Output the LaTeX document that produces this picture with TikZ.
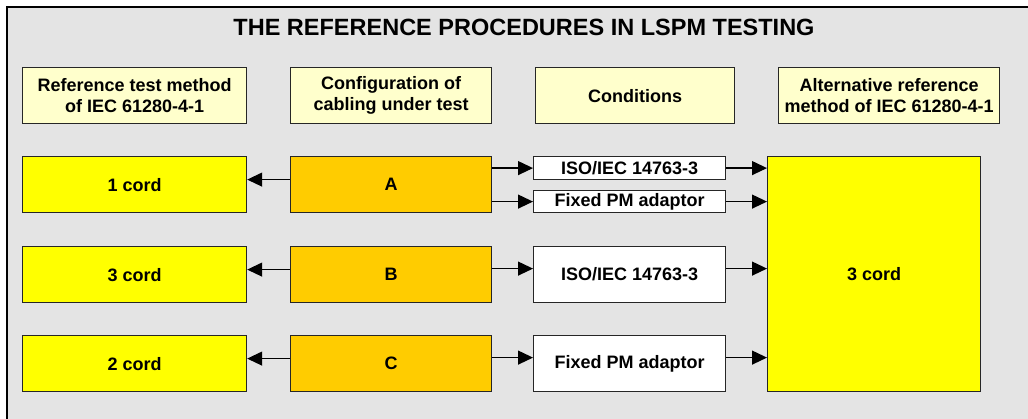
\documentclass[tikz,border=0pt]{standalone}
\usepackage{fontspec}
\setmainfont{Liberation Sans}
\usetikzlibrary{arrows.meta}
\usetikzlibrary{calc}

\definecolor{panelgray}{HTML}{E4E4E4}
\definecolor{headfill}{HTML}{FFFFCC}
\definecolor{cordfill}{HTML}{FFFF00}
\definecolor{cfgfill}{HTML}{FFCC00}

\tikzset{
  box/.style={draw=black!85, line width=1.2pt, anchor=north west, inner sep=0pt,
    align=center, font=\fontsize{18}{21.5}\selectfont\bfseries},
  headbox/.style={box, fill=headfill, minimum height=56pt},
  cordbox/.style={box, fill=cordfill, minimum height=56pt, minimum width=224pt},
  cfgbox/.style={box, fill=cfgfill, minimum height=56pt, minimum width=201pt},
  condbox/.style={box, fill=white, minimum width=192pt},
  arr/.style={line width=1.2pt, -{Triangle[length=15pt,width=14pt]}}
}

\begin{document}
\begin{tikzpicture}[x=1pt,y=-1pt]
  \useasboundingbox (0,0) rectangle (1028,419);
  % panel, cut off at the right and at the bottom
  \fill[panelgray] (7,7) rectangle (1028,419);
  \draw[line width=2.5pt] (7,419) -- (7,7) -- (1028,7);
  \node[font=\fontsize{23.5}{26}\selectfont\bfseries] (title) at (524,27) {THE REFERENCE PROCEDURES IN LSPM TESTING};

  % column headings
  \node[headbox, minimum width=224pt] (h1) at (22,67) {Reference test method\\of IEC 61280-4-1};
  \node[headbox, minimum width=201pt] (h2) at (290,67) {Configuration of\\cabling under test};
  \node[headbox, minimum width=199pt] (h3) at (535,67) {Conditions};
  \node[headbox, minimum width=221pt] (h4) at (778,67) {Alternative reference\\method of IEC 61280-4-1};

  % rows: reference method and configuration
  \foreach \cfg/\cord/\y in {A/1/156, B/3/246, C/2/335} {
    \node[cordbox] (ref\cfg) at (22,\y) {\cord{} cord};
    \node[cfgbox] (cfg\cfg) at (290,\y) {\cfg};
    \draw[arr] ([yshift=5pt]cfg\cfg.west) -- ([yshift=5pt]ref\cfg.east);
  }

  % conditions
  \node[condbox, minimum height=23pt] (isoA) at (533,156) {ISO/IEC 14763-3};
  \node[condbox, minimum height=22pt] (pmA) at (533,190) {Fixed PM adaptor};
  \node[condbox, minimum height=56pt] (isoB) at (533,246) {ISO/IEC 14763-3};
  \node[condbox, minimum height=56pt] (pmC) at (533,335) {Fixed PM adaptor};

  % alternative method
  \node[box, fill=cordfill, minimum width=213pt, minimum height=235pt] (alt) at (767,156) {3 cord};

  \draw[arr] (cfgA.east |- isoA.west) -- (isoA.west);
  \draw[arr] (cfgA.east |- pmA.west) -- (pmA.west);
  \draw[arr] ([yshift=6pt]cfgB.east) -- ([yshift=6pt]isoB.west);
  \draw[arr] ([yshift=6pt]cfgC.east) -- ([yshift=6pt]pmC.west);

  \draw[arr] (isoA.east) -- (isoA.east -| alt.west);
  \draw[arr] (pmA.east) -- (pmA.east -| alt.west);
  \draw[arr] ([yshift=6pt]isoB.east) -- ([yshift=6pt]isoB.east -| alt.west);
  \draw[arr] ([yshift=6pt]pmC.east) -- ([yshift=6pt]pmC.east -| alt.west);
\end{tikzpicture}
\end{document}
